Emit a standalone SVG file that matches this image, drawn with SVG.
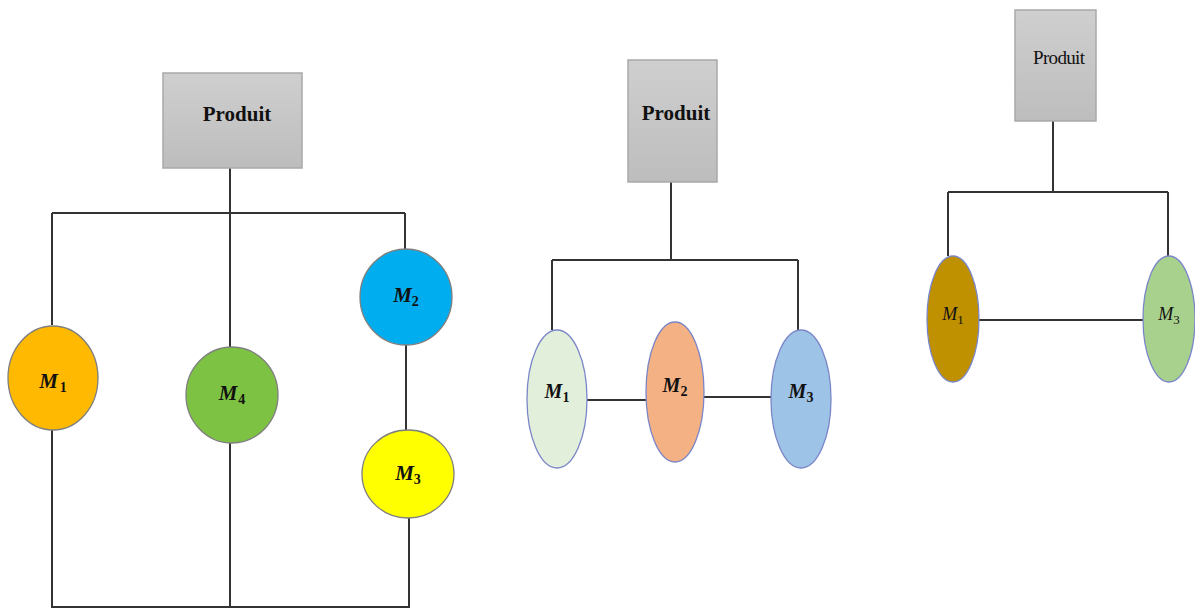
<svg xmlns="http://www.w3.org/2000/svg" width="1195" height="609" viewBox="0 0 1195 609">
<defs>
<linearGradient id="gbox" x1="0" y1="0" x2="0" y2="1">
<stop offset="0" stop-color="#cfcfcf"/>
<stop offset="1" stop-color="#bdbdbd"/>
</linearGradient>
</defs>
<style>
.box{fill:url(#gbox);stroke:#a9a9a9;stroke-width:1.5}
.lbl{font-family:"Liberation Serif",serif;font-weight:bold;fill:#111;text-anchor:middle}
.m{font-family:"Liberation Serif",serif;font-style:italic;fill:#111;text-anchor:middle}
.m tspan{font-style:normal}
.mb{font-weight:bold}
.c{stroke:#7f7f7f;stroke-width:1.3}
.c2{stroke:#7a86c8;stroke-width:1.3}
.w{fill:none;stroke:#333;stroke-width:2}
</style>
<rect width="1195" height="609" fill="#fff"/>
<g id="connectors" class="w">
<path d="M230 168V348M52 213H405M52 213V325M405 213V249M406 345V430M52 430V607H409V518M230 443V607"/>
<path d="M671 182V260M552 260H798M552 260V330M798 260V330M587 400H646M704 397H771"/>
<path d="M1053 121V192M948 192H1168M948 192V256M1168 192V256M979 320H1143"/>
</g>
<g id="left-produit"><rect class="box" x="163" y="73" width="139" height="95"/><text class="lbl" x="237" y="121" font-size="21">Produit</text></g>
<g id="left-m1"><ellipse class="c" cx="53" cy="378" rx="45" ry="52" fill="#ffb900"/><text class="m mb" x="53" y="388" font-size="21">M<tspan font-size="14" dx="2" dy="4">1</tspan></text></g>
<g id="left-m4"><ellipse class="c" cx="232" cy="395" rx="46" ry="48" fill="#7dc242"/><text class="m mb" x="232" y="400" font-size="21">M<tspan font-size="14" dx="1" dy="4">4</tspan></text></g>
<g id="left-m2"><ellipse class="c" cx="406" cy="297" rx="46" ry="48" fill="#00adef"/><text class="m mb" x="406" y="302" font-size="21">M<tspan font-size="14" dy="4">2</tspan></text></g>
<g id="left-m3"><ellipse class="c" cx="408" cy="474" rx="46" ry="44" fill="#ffff00"/><text class="m mb" x="408" y="480" font-size="21">M<tspan font-size="14" dy="4">3</tspan></text></g>

<g id="mid-produit"><rect class="box" x="628" y="60" width="89" height="122"/><text class="lbl" x="676" y="120" font-size="21">Produit</text></g>
<g id="mid-m1"><ellipse class="c2" cx="557" cy="399" rx="30" ry="69" fill="#e2efda"/><text class="m mb" x="557" y="398" font-size="20">M<tspan font-size="14" dy="4">1</tspan></text></g>
<g id="mid-m2"><ellipse class="c2" cx="675" cy="392" rx="29" ry="70" fill="#f4b183"/><text class="m mb" x="675" y="392" font-size="20">M<tspan font-size="14" dy="4">2</tspan></text></g>
<g id="mid-m3"><ellipse class="c2" cx="801" cy="399" rx="30" ry="69" fill="#9dc3e6"/><text class="m mb" x="801" y="398" font-size="20">M<tspan font-size="14" dy="4">3</tspan></text></g>

<g id="right-produit"><rect class="box" x="1015" y="10" width="81" height="111"/><text x="1059" y="64" font-size="19" font-family="Liberation Serif,serif" fill="#111" text-anchor="middle" textLength="52">Produit</text></g>
<g id="right-m1"><ellipse class="c2" cx="953" cy="319" rx="26" ry="63" fill="#bf9000"/><text class="m" x="953" y="320" font-size="18">M<tspan font-size="13" dy="4">1</tspan></text></g>
<g id="right-m3"><ellipse class="c2" cx="1169" cy="319" rx="26" ry="63" fill="#a9d18e"/><text class="m" x="1169" y="320" font-size="18">M<tspan font-size="13" dy="4">3</tspan></text></g>
</svg>
